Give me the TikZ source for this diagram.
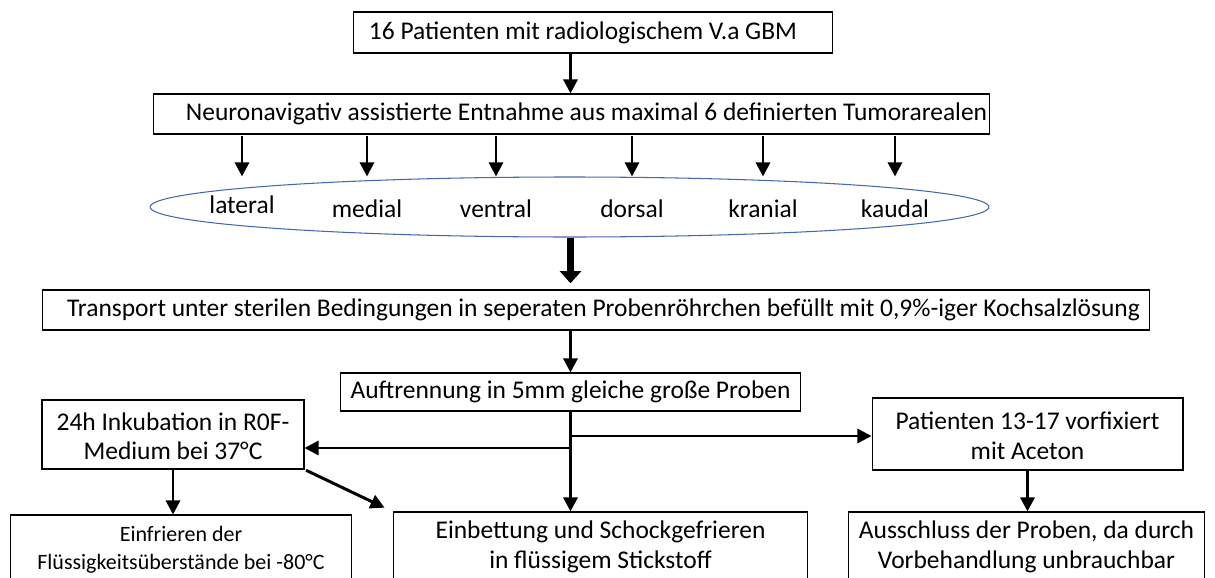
\documentclass[tikz,border=0pt]{standalone}
\usepackage{fontspec}
\setmainfont{Carlito}
\usetikzlibrary{arrows.meta, shapes.geometric}
\definecolor{ellblue}{RGB}{68,104,170}

\begin{document}
\begin{tikzpicture}[x=0.02cm, y=-0.02cm,
  every node/.style={draw, rectangle, inner sep=0pt, line width=0.6pt, align=center, font=\fontsize{14.5}{17}\selectfont},
  area/.style={draw=none},
  arr/.style={line width=1.7pt, -{Triangle[width=8pt, length=8pt]}},
  bigarr/.style={line width=4.5pt, -{Triangle[width=12pt, length=7pt]}}]
\useasboundingbox (0,0) rectangle (1215,578);
\clip (0,0) rectangle (1215,578);
\node[minimum width=9.6cm, minimum height=0.82cm] (patients) at (593,32.5) {16 Patienten mit radiologischem V.a GBM\hspace{0.4cm}};
\node[minimum width=16.74cm, minimum height=0.8cm] (entnahme) at (571.5,114) {\hspace{0.6cm}Neuronavigativ assistierte Entnahme aus maximal 6 definierten Tumorarealen};
\node[ellipse, draw=ellblue, minimum width=16.78cm, minimum height=1.2cm] (areale) at (569.5,207) {};
\node[area] (lateral) at (242,205) {lateral};
\node[area] (medial) at (367,209) {medial};
\node[area] (ventral) at (496,209) {ventral};
\node[area] (dorsal) at (632,209) {dorsal};
\node[area] (kranial) at (763,209) {kranial};
\node[area] (kaudal) at (895,209) {kaudal};
\node[minimum width=22.16cm, minimum height=0.8cm] (transport) at (596,310) {\hspace{0.3cm}Transport unter sterilen Bedingungen in seperaten Probenröhrchen befüllt mit 0,9\%-iger Kochsalzlösung};
\node[minimum width=9.22cm, minimum height=0.76cm] (auftrennung) at (570.5,392) {Auftrennung in 5mm gleiche große Proben};
\node[minimum width=5.24cm, minimum height=1.38cm] (inkubation) at (173,434.5) {\rule{0pt}{12pt}24h Inkubation in R0F-\\Medium bei 37°C};
\node[minimum width=6.22cm, minimum height=1.44cm] (aceton) at (1027.5,434) {\rule{0pt}{12pt}Patienten 13-17 vorfixiert\\mit Aceton};
\node[minimum width=6.84cm, minimum height=1.4cm, font=\fontsize{12.5}{16}\selectfont] (einfrieren) at (181,550) {Einfrieren der\\Flüssigkeitsüberstände bei -80°C};
\node[minimum width=8.3cm, minimum height=1.4cm] (einbettung) at (600.5,547) {Einbettung und Schockgefrieren\\in flüssigem Stickstoff};
\node[minimum width=7.14cm, minimum height=1.4cm] (ausschluss) at (1026.5,547) {Ausschluss der Proben, da durch\\Vorbehandlung unbrauchbar};
\coordinate (rechts) at (570,436);
\coordinate (links) at (570,448);
\draw[arr] (patients.south -| auftrennung.center) -- (entnahme.north -| auftrennung.center);
\foreach \a in {lateral, medial, ventral, dorsal, kranial, kaudal}
  \draw[arr] ([yshift=-1pt]entnahme.south -| \a) -- (areale.north -| \a);
\draw[bigarr, shorten >=3.5pt] (areale.south -| auftrennung.center) -- (transport.north -| auftrennung.center);
\draw[arr] (transport.south -| auftrennung.center) -- (auftrennung.north);
\draw[arr] (auftrennung.south) -- (einbettung.north -| auftrennung.south);
\draw[arr] (links) -- (links -| inkubation.east);
\draw[arr] (rechts) -- (rechts -| aceton.west);
\draw[arr, shorten <=1pt, shorten >=5pt] (inkubation.south east) -- (einbettung.north west);
\draw[arr] (inkubation.south) -- (inkubation.south |- einfrieren.north);
\draw[arr] (aceton.south) -- (aceton.south |- ausschluss.north);
\end{tikzpicture}
\end{document}
